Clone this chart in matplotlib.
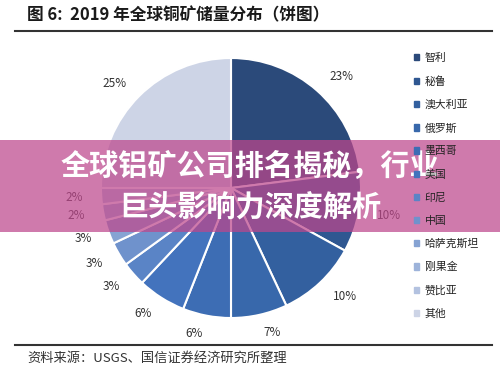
import matplotlib.pyplot as plt
import matplotlib.patches as mpatches
from matplotlib.lines import Line2D

plt.rcParams['font.family'] = ['Noto Sans CJK SC', 'DejaVu Sans']

# data
countries = ['智利', '秘鲁', '澳大利亚', '俄罗斯', '墨西哥', '美国',
             '印尼', '中国', '哈萨克斯坦', '刚果金', '赞比亚', '其他']
shares = [23, 10, 10, 7, 6, 6, 3, 3, 3, 2, 2, 25]
colors = ['#2b4a7a', '#2f5791', '#33609f', '#3868ab', '#3d6db4', '#4373bd',
          '#5a84c6', '#6f92cc', '#86a3d3', '#9db3da', '#b3c2e0', '#cdd4e6']

title = '图 6:  2019 年全球铜矿储量分布（饼图）'
source = '资料来源：USGS、国信证券经济研究所整理'
banner = ['全球铝矿公司排名揭秘，行业', '巨头影响力深度解析']

W, H = 500, 374
fig = plt.figure(figsize=(5, 3.74), dpi=100)
fig.patch.set_facecolor('white')

# pie, center approx (231,188) px, radius 130 px
ax = fig.add_axes([101 / W, 56 / H, 260 / W, 260 / H])
ax.pie(shares, colors=colors, startangle=90, counterclock=False,
       labels=[f'{s}%' for s in shares], labeldistance=1.14,
       wedgeprops=dict(edgecolor='white', linewidth=1.5),
       textprops=dict(fontsize=8.5, color='#333333'))
ax.set_xlim(-1, 1)
ax.set_ylim(-1, 1)
ax.set_aspect('equal')

# legend
handles = [mpatches.Patch(color=c, label=n) for c, n in zip(colors, countries)]
fig.legend(handles=handles, loc='upper left', bbox_to_anchor=(404 / W, 1 - 43 / H),
           frameon=False, fontsize=7.8, handlelength=0.5, handleheight=0.5,
           handletextpad=0.5, labelspacing=1.2, labelcolor='#222222')

# header / footer
fig.text(27 / W, 1 - 15 / H, title, fontsize=12, fontweight='bold',
         color='#1a1a1a', va='center', ha='left')
fig.add_artist(Line2D([15 / W, 492 / W], [1 - 31 / H, 1 - 31 / H],
                      color='#333333', linewidth=1.5))
fig.add_artist(Line2D([15 / W, 492 / W], [1 - 345 / H, 1 - 345 / H],
                      color='#333333', linewidth=1.5))
fig.text(27 / W, 1 - 358 / H, source, fontsize=9.5, color='#333333',
         va='center', ha='left')

# pink overlay banner
fig.add_artist(mpatches.Rectangle((0, 1 - 232 / H), 1, 92 / H,
                                  transform=fig.transFigure,
                                  facecolor=(0.74, 0.28, 0.55), alpha=0.72,
                                  edgecolor='none'))
fig.text(0.5, 1 - 166 / H, banner[0], fontsize=21, fontweight='bold',
         color='white', ha='center', va='center')
fig.text(0.5, 1 - 208 / H, banner[1], fontsize=21, fontweight='bold',
         color='white', ha='center', va='center')

fig.savefig('out.png', dpi=100)
